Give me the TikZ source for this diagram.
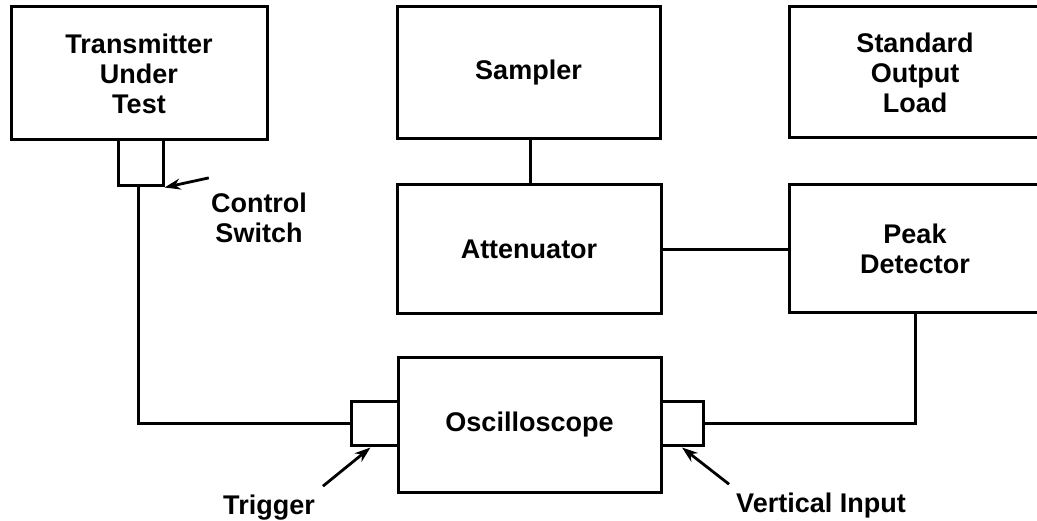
\documentclass[tikz,border=0pt]{standalone}
\usepackage{fontspec}
\setmainfont{Liberation Sans}
\usetikzlibrary{arrows.meta,calc}
\begin{document}
\begin{tikzpicture}[x=1pt,y=-1pt,
  every node/.style={font=\fontsize{27}{30}\selectfont\bfseries},
  blk/.style={draw,line width=3pt,rectangle,align=center,inner sep=0pt},
  port/.style={draw,line width=3pt,rectangle,inner sep=0pt},
  lbl/.style={align=center,inner sep=0pt},
  wire/.style={line width=3pt},
  ptr/.style={line width=2.8pt,-{Stealth[length=16pt,width=11pt]}}]
\useasboundingbox (0,0) rectangle (1037,521);
\node[blk,minimum width=256pt,minimum height=133pt] (tx) at (139,73.5) {Transmitter\\Under\\Test};
\node[blk,minimum width=263pt,minimum height=132pt] (sam) at (528.5,73) {Sampler};
\node[blk,minimum width=252pt,minimum height=131pt] (std) at (915,72.5) {Standard\\Output\\Load};
\node[blk,minimum width=264pt,minimum height=129pt] (att) at (529,249.5) {Attenuator};
\node[blk,minimum width=252pt,minimum height=128pt] (pk) at (915,249) {Peak\\Detector};
\node[blk,minimum width=263pt,minimum height=134pt] (osc) at (529.5,425) {Oscilloscope};
\node[port,minimum width=47pt,minimum height=44pt] (trig) at (374.5,424) {};
\node[port,minimum width=42pt,minimum height=44pt] (vin) at (682,424) {};
\node[port,minimum width=45pt,minimum height=46pt] (sw) at (140.5,163) {};
\node[lbl] (ctrl) at (259,218) {Control\\Switch};
\node[lbl] (trl) at (269,508) {Trigger};
\node[lbl] (vil) at (821,506) {Vertical Input};
\draw[wire] ($(tx.east)+(0,-2.5)$) -- ($(tx.east)+(0,-2.5)$ -| sam.west);
\draw[wire] ($(sam.east)+(0,-2.5)$) -- ($(sam.east)+(0,-2.5)$ -| std.west);
\draw[wire] ($(sam.south)+(1.5,0)$) -- ($(att.north)+(1,0)$);
\draw[wire] (att.east) -- (att.east -| pk.west);
\draw[wire] (pk.south) |- (vin.east);
\draw[wire] ($(sw.south)+(-2.5,0)$) |- (trig.west);
\draw[ptr] ($(ctrl.north west)+(-2,-15)$) -- (sw.south east);
\draw[ptr] ($(trl.north east)+(8,-9)$) -- ($(trig.south)+(-4,0)$);
\draw[ptr] ($(vil.north west)+(-7,-9)$) -- (vin.south);
\end{tikzpicture}
\end{document}
